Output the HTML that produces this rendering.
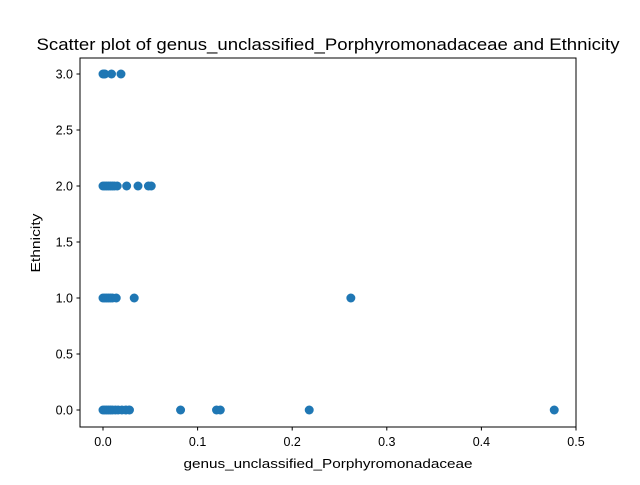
<!DOCTYPE html>
<html><head><meta charset="utf-8"><style>
body{margin:0;background:#fff;font-family:"Liberation Sans","DejaVu Sans",sans-serif}
</style></head><body>
<svg id="chart" width="640" height="480" xmlns="http://www.w3.org/2000/svg">
<rect width="640" height="480" fill="#fff"/>
<text x="328" y="50" font-size="16.5" text-anchor="middle" textLength="583" lengthAdjust="spacingAndGlyphs">Scatter plot of genus_unclassified_Porphyromonadaceae and Ethnicity</text>
<g id="marks"></g>
<rect x="80" y="58" width="496" height="369" fill="none" stroke="#000" stroke-width="1"/>
<g id="xt"></g><g id="yt"></g>
<text x="328" y="468" font-size="13" text-anchor="middle" textLength="289" lengthAdjust="spacingAndGlyphs">genus_unclassified_Porphyromonadaceae</text>
<text transform="translate(40,243) rotate(-90)" font-size="13" text-anchor="middle" textLength="59" lengthAdjust="spacingAndGlyphs">Ethnicity</text>
</svg>
<script>
const xValues=[0,0.001,0.002,0.009,0.019,
0,0.002,0.004,0.006,0.008,0.01,0.012,0.015,0.025,0.037,0.048,0.051,
0,0.002,0.004,0.006,0.008,0.01,0.014,0.033,0.262,
0,0.002,0.004,0.006,0.008,0.01,0.013,0.016,0.02,0.024,0.028,0.082,0.12,0.124,0.218,0.477];
const yValues=[3,3,3,3,3,
2,2,2,2,2,2,2,2,2,2,2,2,
1,1,1,1,1,1,1,1,1,
0,0,0,0,0,0,0,0,0,0,0,0,0,0,0,0];
const xTicks=[0,0.1,0.2,0.3,0.4,0.5];
const yTicks=[0,0.5,1,1.5,2,2.5,3];
const NS="http://www.w3.org/2000/svg";
const xs=v=>103+v*946, ys=v=>410-v*112;
const m=document.getElementById('marks');
xValues.forEach((v,i)=>{const c=document.createElementNS(NS,'circle');
c.setAttribute('cx',xs(v));c.setAttribute('cy',ys(yValues[i]));c.setAttribute('r',4.5);c.setAttribute('fill','#1f77b4');


m.appendChild(c);});
const xt=document.getElementById('xt');
xTicks.forEach(t=>{const x=xs(t);
const l=document.createElementNS(NS,'line');l.setAttribute('x1',x);l.setAttribute('x2',x);l.setAttribute('y1',427);l.setAttribute('y2',430.5);l.setAttribute('stroke','#000');


xt.appendChild(l);
const s=document.createElementNS(NS,'text');s.setAttribute('x',x);s.setAttribute('y',446);s.setAttribute('font-size','12.5');s.setAttribute('text-anchor','middle');s.textContent=t.toFixed(1);


xt.appendChild(s);});
const yt=document.getElementById('yt');
yTicks.forEach(t=>{const y=ys(t);
const l=document.createElementNS(NS,'line');l.setAttribute('x1',76.5);l.setAttribute('x2',80);l.setAttribute('y1',y);l.setAttribute('y2',y);l.setAttribute('stroke','#000');


yt.appendChild(l);
const s=document.createElementNS(NS,'text');s.setAttribute('x',73);s.setAttribute('y',y+4.5);s.setAttribute('font-size','12.5');s.setAttribute('text-anchor','end');s.textContent=t.toFixed(1);


yt.appendChild(s);});
</script>
</body></html>
